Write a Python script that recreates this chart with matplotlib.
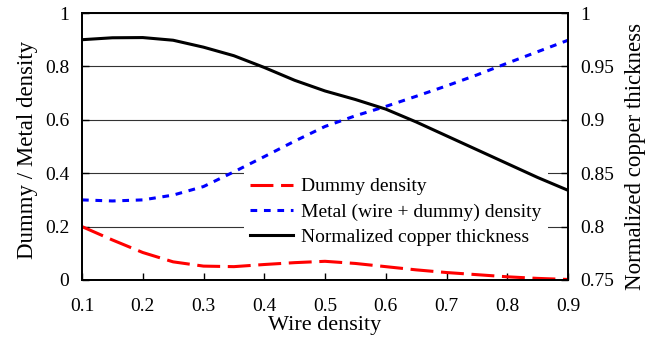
import matplotlib
matplotlib.use("Agg")
import matplotlib.pyplot as plt

plt.rcParams['font.family'] = ['Liberation Serif', 'DejaVu Serif']

wire_density = [0.10, 0.15, 0.20, 0.25, 0.30, 0.35, 0.40, 0.45, 0.50, 0.55,
                0.60, 0.65, 0.70, 0.75, 0.80, 0.85, 0.90]
dummy_density = [0.200, 0.150, 0.103, 0.068, 0.052, 0.050, 0.058, 0.065, 0.070,
                 0.062, 0.050, 0.038, 0.028, 0.020, 0.012, 0.006, 0.002]
metal_density = [0.300, 0.296, 0.300, 0.318, 0.350, 0.405, 0.462, 0.520, 0.575,
                 0.615, 0.650, 0.688, 0.727, 0.768, 0.812, 0.855, 0.898]
cu_thickness = [0.9750, 0.9768, 0.9770, 0.9745, 0.9680, 0.9600, 0.9490, 0.9370,
                0.9270, 0.9190, 0.9100, 0.8980, 0.8850, 0.8720, 0.8590, 0.8460, 0.8340]

x_ticks = [0.1, 0.2, 0.3, 0.4, 0.5, 0.6, 0.7, 0.8, 0.9]
x_tick_labels = ["0.1", "0.2", "0.3", "0.4", "0.5", "0.6", "0.7", "0.8", "0.9"]
left_ticks = [0, 0.2, 0.4, 0.6, 0.8, 1.0]
left_tick_labels = ["0", "0.2", "0.4", "0.6", "0.8", "1"]
right_ticks = [0.75, 0.8, 0.85, 0.9, 0.95, 1.0]
right_tick_labels = ["0.75", "0.8", "0.85", "0.9", "0.95", "1"]

fig = plt.figure(figsize=(6.6, 3.41), dpi=100)
ax1 = fig.add_axes([82/660, 1-280/341, (568-82)/660, (280-13)/341])
ax2 = ax1.twinx()

lw = 2.2
l1, = ax1.plot(wire_density, dummy_density, color='#ff0000', lw=lw,
               dashes=(7.5, 2.5), solid_capstyle='butt', dash_capstyle='butt',
               label='Dummy density')
l2, = ax1.plot(wire_density, metal_density, color='#0000ff', lw=lw,
               dashes=(2.2, 2.2), dash_capstyle='butt',
               label='Metal (wire + dummy) density')
l3, = ax2.plot(wire_density, cu_thickness, color='black', lw=lw, zorder=3,
               label='Normalized copper thickness')

ax1.set_xlim(0.1, 0.9)
ax1.set_ylim(0, 1)
ax2.set_ylim(0.75, 1)

ax1.set_xticks(x_ticks)
ax1.set_xticklabels(x_tick_labels)
ax1.set_yticks(left_ticks)
ax1.set_yticklabels(left_tick_labels)
ax2.set_yticks(right_ticks)
ax2.set_yticklabels(right_tick_labels)

ax1.yaxis.grid(True, color='#333333', lw=0.8)
ax1.set_axisbelow(True)

ax1.tick_params(axis='x', direction='in', length=5, width=1, labelsize=14, pad=13)
ax1.tick_params(axis='y', direction='in', length=5, width=1, labelsize=14, pad=9)
ax2.tick_params(axis='y', direction='in', length=5, width=1, labelsize=14, pad=9)

for ax in (ax1, ax2):
    for s in ax.spines.values():
        s.set_linewidth(1.3)

ax1.set_xlabel('Wire density', fontsize=16, labelpad=1)
ax1.set_ylabel('Dummy / Metal density', fontsize=16.5, labelpad=5)
ax2.set_ylabel('Normalized copper thickness', fontsize=16.5, labelpad=8)
ax1.yaxis.label.set_y(0.488)
ax2.yaxis.label.set_y(0.463)

leg = ax2.legend(handles=[l1, l2, l3], loc='upper left',
                 bbox_to_anchor=(244/660, 1-172/341), bbox_transform=fig.transFigure,
                 fontsize=14, frameon=True, fancybox=False, framealpha=1,
                 edgecolor='none', facecolor='white', handlelength=2.2,
                 handletextpad=0.45, labelspacing=0.4, borderpad=0.3,
                 borderaxespad=0)
leg.set_zorder(2.5)

fig.savefig('out.png', dpi=100)
